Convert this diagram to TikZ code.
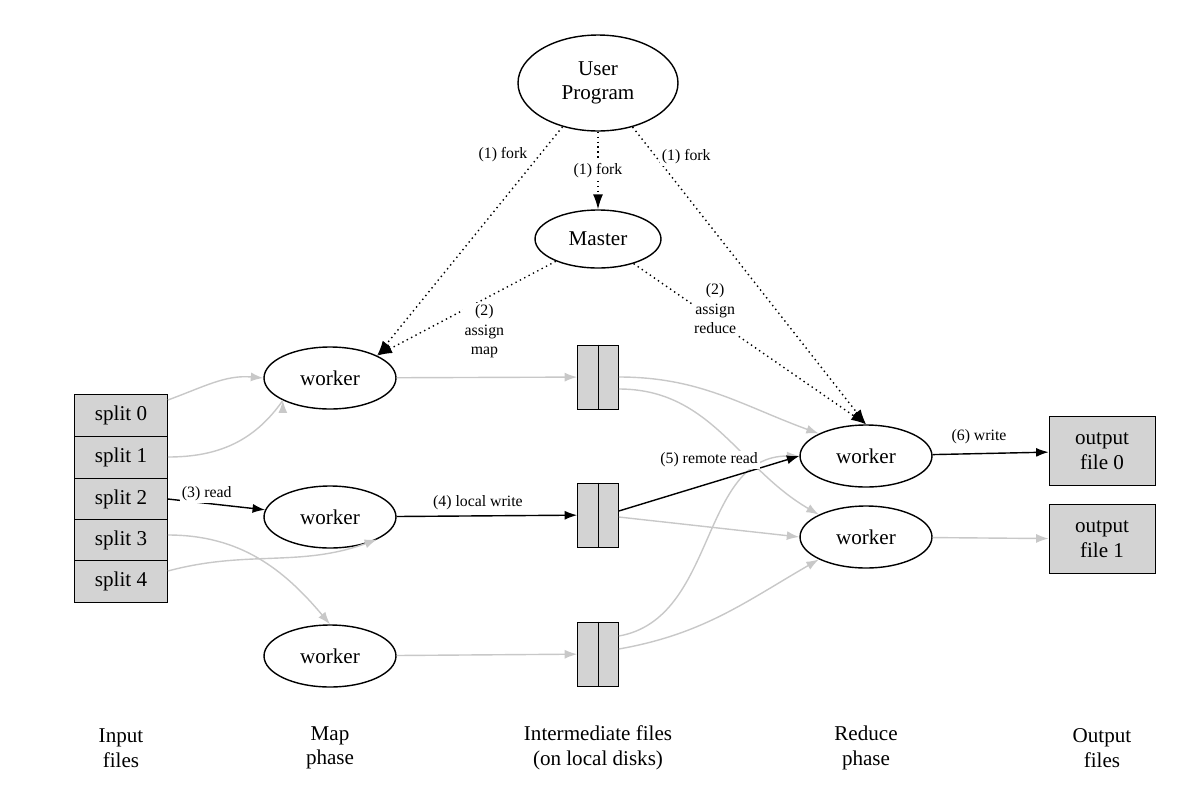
\documentclass[tikz,border=0pt]{standalone}
\usepackage{fontspec}
\setmainfont{Liberation Serif}
\usetikzlibrary{arrows.meta}
\usetikzlibrary{calc}
\usetikzlibrary{shapes.geometric}
\usetikzlibrary{positioning}

\definecolor{boxgray}{RGB}{211,211,211}
\definecolor{linegray}{RGB}{200,200,200}

\tikzset{
  proc/.style={draw,ellipse,thick,minimum width=2.64cm,minimum height=1.24cm,font=\fontsize{12}{14}\selectfont},
  split/.style={draw,rectangle,fill=boxgray,minimum width=1.86cm,minimum height=0.84cm,font=\fontsize{12}{14}\selectfont,inner sep=0pt},
  ifile/.style={draw,rectangle,fill=boxgray,minimum width=0.82cm,minimum height=1.28cm},
  ofile/.style={draw,rectangle,fill=boxgray,minimum width=2.12cm,minimum height=1.38cm,align=center,font=\fontsize{12}{14}\selectfont},
  lbl/.style={font=\fontsize{9}{11}\selectfont,align=center,fill=white,inner sep=1pt},
  foot/.style={align=center,font=\fontsize{12}{14}\selectfont},
  fork/.style={dotted,thick,-{Latex[length=3mm,width=2mm]}},
  data/.style={linegray,thick,-{Latex[length=2.5mm,width=1.8mm]}},
  flow/.style={black,thick,-{Latex[length=2.5mm,width=1.8mm]}}
}

\begin{document}
\begin{tikzpicture}[x=0.02cm,y=-0.02cm]
  \useasboundingbox (0,0) rectangle (1184,795);

  % control
  \node [proc,minimum width=3.2cm,minimum height=1.92cm,align=center] (user) at (598,83) {User\\Program};
  \node [proc,minimum width=2.52cm,minimum height=1.16cm] (master) at (598,239) {Master};

  % map side
  \node [proc] (m1) at (330,378) {worker};
  \node [proc] (m2) at (330,517) {worker};
  \node [proc] (m3) at (330,656) {worker};

  \foreach \i/\y in {0/415,1/457,2/499,3/540,4/581}
    \node [split] (s\i) at (121,\y) {split \i};

  % intermediate files
  \foreach \i/\y in {1/377,2/515,3/654} {
    \node [ifile] (f\i) at (598,\y) {};
    \draw (f\i.north) -- (f\i.south);
  }

  % reduce side
  \node [proc] (r1) at (866,456) {worker};
  \node [proc] (r2) at (866,537) {worker};
  \node [ofile] (o0) at (1102,451) {output\\file 0};
  \node [ofile] (o1) at (1102,539) {output\\file 1};

  % forks and assignments
  \draw [fork] (user) -- (m1.north east) node [lbl,pos=0.12,left=6pt] {(1) fork};
  \draw [fork] (user) -- (master) node [lbl,midway] {(1) fork};
  \draw [fork] (user) -- (r1.north) node [lbl,pos=0.1,right=2pt] {(1) fork};
  \draw [fork] (master) -- (m1.north east) node [lbl,pos=0.4,below=2pt] {(2)\\assign\\map};
  \draw [fork] (master) -- (r1.north) node [lbl,pos=0.28,right=-4pt] {(2)\\assign\\reduce};

  % gray data flow
  \draw [data] (s0.east) ++(0,-15) to[out=20,in=175] (m1.west);
  \draw [data] (s1.east) to[out=0,in=235] (m1.south west) ++(0,0);
  \draw [data] (s3.east) ++(0,-5) to[out=0,in=130] (m3.north);
  \draw [data] (s4.east) ++(0,-10) to[out=15,in=200] (m2.south east);
  \draw [data] (m1) -- (f1);
  \draw [data] (m3) -- (f3);
  \draw [data] (f1.east) to[out=0,in=160] (r1.north west);
  \draw [data] (f1.east) ++(0,12) to[out=0,in=150] (r2.north west);
  \draw [data] (f2.east) ++(0,2) -- (r2.west);
  \draw [data] (f3.east) ++(0,-18) to[out=10,in=180] (r1.west);
  \draw [data] (f3.east) ++(0,-5) to[out=10,in=210] (r2.south west);
  \draw [data] (r2) -- (o1);

  % black data flow
  \draw [flow] (s2.east) -- (m2) node [lbl,pos=0.4,above] {(3) read};
  \draw [flow] (m2) -- (f2) node [lbl,pos=0.45,above=2pt] {(4) local write};
  \draw [flow] (f2.east) ++(0,-4) -- (r1.west) node [lbl,pos=0.5,above=8pt] {(5) remote read};
  \draw [flow] (r1) -- (o0) node [lbl,pos=0.4,above=4pt] {(6) write};

  % phase labels
  \node [foot] (lin) at (121,748) {Input\\files};
  \node [foot] (lmap) at (330,748) {Map\\phase};
  \node [foot] (lmid) at (598,748) {Intermediate files\\(on local disks)};
  \node [foot] (lred) at (866,748) {Reduce\\phase};
  \node [foot] (lout) at (1102,748) {Output\\files};

\end{tikzpicture}
\end{document}
